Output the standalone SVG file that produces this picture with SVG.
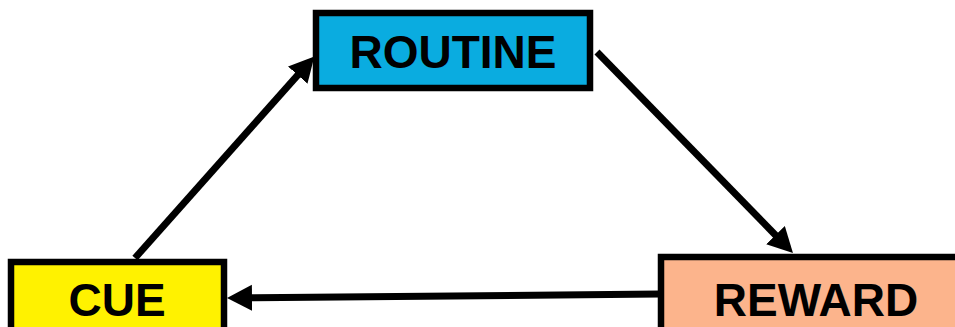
<svg xmlns="http://www.w3.org/2000/svg" width="955" height="327" viewBox="0 0 955 327">
<style>
.box{stroke:#000;stroke-width:6.5}
.lbl{font-family:"Liberation Sans",Arial,sans-serif;font-weight:bold;font-size:46px;fill:#000;text-anchor:middle}
.conn{stroke:#000;stroke-width:7;fill:none}
</style>
<defs>
<marker id="ah" markerUnits="userSpaceOnUse" markerWidth="28" markerHeight="28" refX="4" refY="13" orient="auto">
<path d="M0,0 L25,13 L0,26 z" fill="#000"/>
</marker>
</defs>
<rect width="955" height="327" fill="#fff"/>
<g id="connectors">
<path class="conn" d="M135,258 L300.4,72.1" marker-end="url(#ah)"/>
<path class="conn" d="M597,52 L778.3,238" marker-end="url(#ah)"/>
<path class="conn" d="M660,294 L248,297.8" marker-end="url(#ah)"/>
</g>
<g id="routine">
<rect class="box" x="316" y="13" width="274" height="75" fill="#0AACE0"/>
<text class="lbl" x="453" y="68">ROUTINE</text>
</g>
<g id="cue">
<rect class="box" x="11" y="262" width="213" height="80" fill="#FFF200"/>
<text class="lbl" x="117" y="316">CUE</text>
</g>
<g id="reward">
<rect class="box" x="661" y="257" width="320" height="90" fill="#FCB48C"/>
<text class="lbl" x="816" y="316">REWARD</text>
</g>
</svg>
